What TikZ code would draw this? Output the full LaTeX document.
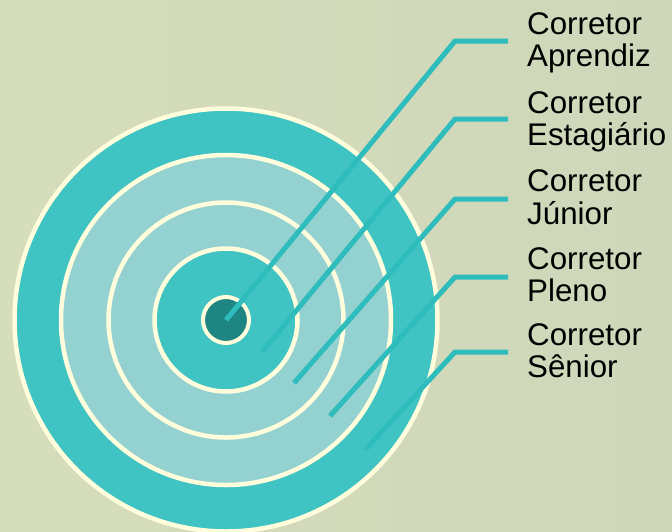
\documentclass[tikz,border=0pt]{standalone}
\usepackage{fontspec}
\setmainfont{Liberation Sans}
\definecolor{bgA}{RGB}{214,221,187}
\definecolor{bgB}{RGB}{206,215,186}
\definecolor{tealring}{RGB}{64,195,195}
\definecolor{lightring}{RGB}{148,209,209}
\definecolor{darkcore}{RGB}{30,134,130}
\definecolor{creamline}{RGB}{255,253,220}
\definecolor{leader}{RGB}{46,188,188}
\begin{document}
\begin{tikzpicture}[x=1pt,y=-1pt,
  ring/.style={draw=creamline,line width=4.5pt},
  leaderline/.style={draw=leader,line width=5pt,line cap=butt,line join=miter},
  lbl/.style={anchor=base west,inner sep=0pt,align=left,
    font=\fontsize{31.3}{32.6}\selectfont,text=black}]
\useasboundingbox (0,0) rectangle (672,531);
\shade[left color=bgA,right color=bgB] (0,0) rectangle (672,531);
% target rings
\coordinate (c) at (226,320);
\path[ring,fill=tealring]  (c) circle[radius=211.5];
\path[ring,fill=lightring] (c) circle[radius=165];
\path[ring,fill=lightring] (c) circle[radius=117.5];
\path[ring,fill=tealring]  (c) circle[radius=71.5];
\path[ring,fill=darkcore,line width=4pt] (c) circle[radius=23];
% leader ends
\coordinate (p1) at (226,320);
\coordinate (p2) at (262,352);
\coordinate (p3) at (294,383);
\coordinate (p4) at (330,416);
\coordinate (p5) at (365,450);
\coordinate (b1) at (455,41);
\coordinate (b2) at (455,119);
\coordinate (b3) at (455,199);
\coordinate (b4) at (455,277);
\coordinate (b5) at (455,352);
\coordinate (e1) at (508,41);
\coordinate (e2) at (508,119);
\coordinate (e3) at (508,199);
\coordinate (e4) at (508,277);
\coordinate (e5) at (508,352);
\draw[leaderline] (p1) -- (b1) -- (e1);
\draw[leaderline] (p2) -- (b2) -- (e2);
\draw[leaderline] (p3) -- (b3) -- (e3);
\draw[leaderline] (p4) -- (b4) -- (e4);
\draw[leaderline] (p5) -- (b5) -- (e5);
% labels (anchor = baseline of the second line)
\node[lbl] (t1) at (527,66.9) {Corretor\\Aprendiz};
\node[lbl] (t2) at (527,145.9) {Corretor\\Estagiário};
\node[lbl] (t3) at (527,224.3) {Corretor\\Júnior};
\node[lbl] (t4) at (527,301.9) {Corretor\\Pleno};
\node[lbl] (t5) at (527,377.6) {Corretor\\Sênior};
\end{tikzpicture}
\end{document}
